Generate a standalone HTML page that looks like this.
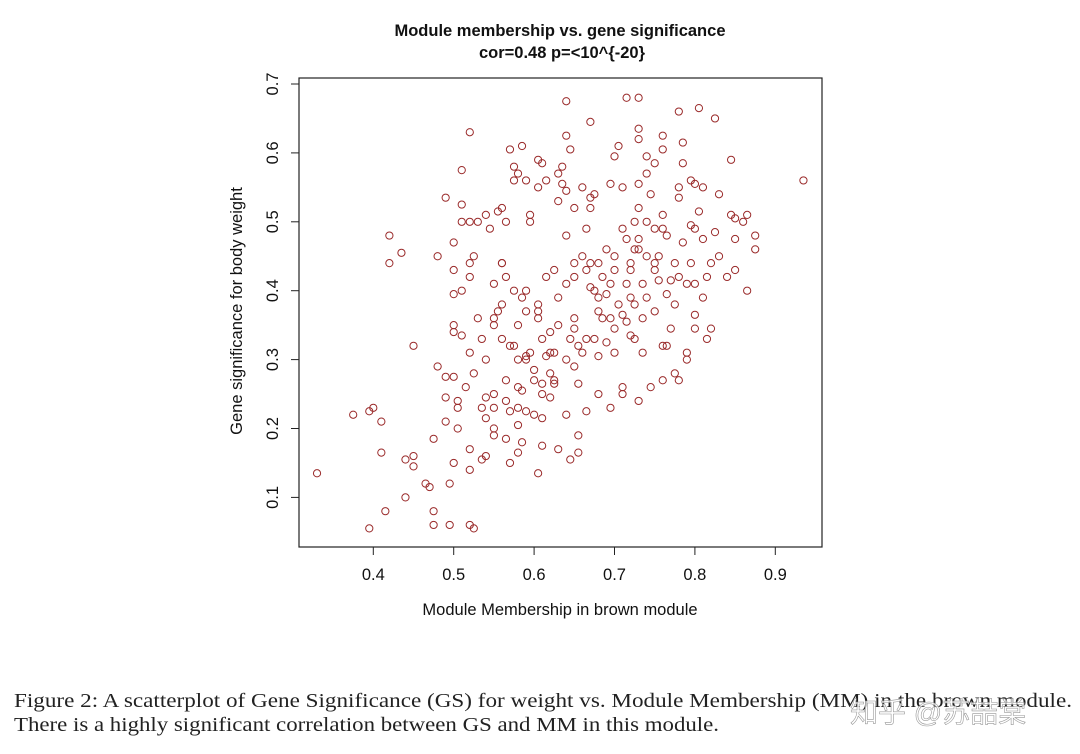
<!DOCTYPE html>
<html><head><meta charset="utf-8"><style>
html,body{margin:0;padding:0;background:#fff;}
svg{display:block;}
</style></head><body>
<svg id="chart" width="1080" height="754" viewBox="0 0 1080 754" xmlns="http://www.w3.org/2000/svg">
<rect width="1080" height="754" fill="#fff"/>
<text x="560" y="36" text-anchor="middle" font-family="'Liberation Sans',sans-serif" font-weight="bold" font-size="16.5" fill="#111">Module membership vs. gene significance</text>
<text x="562" y="58" text-anchor="middle" font-family="'Liberation Sans',sans-serif" font-weight="bold" font-size="16.5" fill="#111">cor=0.48 p=&lt;10^{-20}</text>
<rect x="299" y="78" width="523" height="469" fill="none" stroke="#222" stroke-width="1.2"/>
<g id="xaxis"></g>
<g id="yaxis"></g>
<g id="points"></g>
<text x="560" y="615" text-anchor="middle" font-family="'Liberation Sans',sans-serif" font-size="16.5" fill="#111">Module Membership in brown module</text>
<text transform="translate(242,311) rotate(-90)" text-anchor="middle" font-family="'Liberation Sans',sans-serif" font-size="16.5" fill="#111">Gene significance for body weight</text>
<text x="14" y="707" textLength="1058" lengthAdjust="spacingAndGlyphs" font-family="'Liberation Serif',serif" font-size="20" fill="#222">Figure 2: A scatterplot of Gene Significance (GS) for weight vs. Module Membership (MM) in the brown module.</text>
<text x="14" y="731" textLength="705" lengthAdjust="spacingAndGlyphs" font-family="'Liberation Serif',serif" font-size="20" fill="#222">There is a highly significant correlation between GS and MM in this module.</text>
<text x="850" y="722" font-family="'Liberation Sans','Noto Sans CJK SC',sans-serif" font-size="28" fill="#fff" fill-opacity="0.75" stroke="#999" stroke-width="0.6">知乎 @苏喆棠</text>
</svg>
<script>
const xTicks=[0.4,0.5,0.6,0.7,0.8,0.9];
const yTicks=[0.1,0.2,0.3,0.4,0.5,0.6,0.7];
const mm=[0.33,0.935,0.395,0.375,0.395,0.40,0.41,0.41,0.415,0.42,0.42,0.435,0.44,0.44,0.45,0.45,0.45,0.465,0.47,0.475,0.475,0.475,0.48,0.48,0.49,0.49,0.49,0.495,0.495,0.49,0.50,0.50,0.50,0.50,0.50,0.50,0.50,0.505,0.505,0.505,0.51,0.51,0.51,0.51,0.51,0.515,0.52,0.52,0.52,0.52,0.52,0.52,0.52,0.52,0.525,0.525,0.525,0.53,0.53,0.535,0.535,0.535,0.54,0.54,0.54,0.54,0.54,0.545,0.55,0.55,0.55,0.55,0.55,0.55,0.55,0.555,0.555,0.56,0.56,0.56,0.56,0.56,0.565,0.565,0.565,0.565,0.565,0.57,0.57,0.57,0.57,0.575,0.575,0.575,0.575,0.58,0.58,0.58,0.58,0.58,0.58,0.58,0.585,0.585,0.585,0.585,0.59,0.59,0.59,0.59,0.59,0.59,0.595,0.595,0.595,0.60,0.60,0.60,0.605,0.605,0.605,0.605,0.605,0.605,0.61,0.61,0.61,0.61,0.61,0.61,0.615,0.615,0.615,0.62,0.62,0.62,0.62,0.625,0.625,0.625,0.625,0.63,0.63,0.63,0.63,0.63,0.635,0.635,0.64,0.64,0.64,0.64,0.64,0.64,0.64,0.645,0.645,0.645,0.65,0.65,0.65,0.65,0.65,0.65,0.655,0.655,0.655,0.655,0.66,0.66,0.66,0.665,0.665,0.665,0.665,0.67,0.67,0.67,0.67,0.67,0.675,0.675,0.675,0.68,0.68,0.68,0.68,0.68,0.685,0.685,0.69,0.69,0.69,0.695,0.695,0.695,0.695,0.70,0.70,0.70,0.70,0.70,0.705,0.705,0.71,0.71,0.71,0.71,0.71,0.715,0.715,0.715,0.715,0.72,0.72,0.72,0.72,0.725,0.725,0.725,0.725,0.73,0.73,0.73,0.73,0.73,0.73,0.73,0.73,0.735,0.735,0.735,0.74,0.74,0.74,0.74,0.74,0.745,0.745,0.75,0.75,0.75,0.75,0.75,0.755,0.755,0.76,0.76,0.76,0.76,0.76,0.76,0.765,0.765,0.765,0.77,0.77,0.775,0.775,0.775,0.78,0.78,0.78,0.78,0.78,0.785,0.785,0.785,0.79,0.79,0.79,0.795,0.795,0.795,0.80,0.80,0.80,0.80,0.80,0.805,0.805,0.81,0.81,0.81,0.815,0.815,0.82,0.82,0.825,0.825,0.83,0.83,0.84,0.845,0.845,0.85,0.85,0.85,0.86,0.865,0.865,0.875,0.875];
const gs=[0.135,0.56,0.055,0.22,0.225,0.23,0.165,0.21,0.08,0.48,0.44,0.455,0.10,0.155,0.16,0.145,0.32,0.12,0.115,0.06,0.08,0.185,0.29,0.45,0.275,0.535,0.245,0.12,0.06,0.21,0.15,0.43,0.35,0.34,0.275,0.47,0.395,0.23,0.24,0.20,0.50,0.525,0.575,0.335,0.40,0.26,0.17,0.14,0.50,0.42,0.44,0.63,0.31,0.06,0.055,0.28,0.45,0.50,0.36,0.23,0.33,0.155,0.16,0.51,0.215,0.30,0.245,0.49,0.41,0.35,0.36,0.20,0.23,0.25,0.19,0.515,0.37,0.44,0.38,0.52,0.44,0.33,0.27,0.24,0.185,0.42,0.50,0.15,0.605,0.32,0.225,0.56,0.58,0.40,0.32,0.30,0.57,0.26,0.35,0.23,0.205,0.165,0.61,0.39,0.255,0.18,0.305,0.56,0.40,0.30,0.37,0.225,0.50,0.51,0.31,0.285,0.22,0.27,0.59,0.55,0.38,0.37,0.36,0.135,0.585,0.33,0.265,0.25,0.215,0.175,0.305,0.56,0.42,0.34,0.245,0.31,0.28,0.43,0.31,0.27,0.265,0.35,0.39,0.53,0.57,0.17,0.58,0.555,0.675,0.625,0.545,0.48,0.41,0.30,0.22,0.605,0.155,0.33,0.44,0.42,0.36,0.345,0.29,0.52,0.32,0.265,0.19,0.165,0.55,0.45,0.31,0.49,0.43,0.33,0.225,0.645,0.535,0.52,0.44,0.405,0.54,0.40,0.33,0.44,0.39,0.37,0.305,0.25,0.42,0.36,0.395,0.325,0.46,0.555,0.41,0.36,0.23,0.595,0.45,0.43,0.345,0.31,0.61,0.38,0.55,0.49,0.365,0.26,0.25,0.68,0.475,0.41,0.355,0.44,0.39,0.335,0.43,0.50,0.46,0.38,0.33,0.68,0.635,0.62,0.555,0.475,0.52,0.46,0.24,0.41,0.31,0.36,0.595,0.57,0.50,0.45,0.39,0.54,0.26,0.585,0.49,0.44,0.37,0.43,0.45,0.415,0.625,0.605,0.51,0.49,0.32,0.27,0.48,0.395,0.32,0.415,0.345,0.44,0.38,0.28,0.66,0.55,0.535,0.42,0.27,0.615,0.585,0.47,0.41,0.31,0.30,0.56,0.495,0.44,0.555,0.49,0.41,0.365,0.345,0.665,0.515,0.55,0.475,0.39,0.42,0.33,0.44,0.345,0.65,0.485,0.54,0.45,0.42,0.59,0.51,0.505,0.475,0.43,0.50,0.51,0.40,0.48,0.46];
const NS='http://www.w3.org/2000/svg';
function xScale(v){return 373.3+(v-0.4)*804;}
function yScale(v){return 84+(0.7-v)*689;}
const xa=document.getElementById('xaxis'),ya=document.getElementById('yaxis'),pg=document.getElementById('points');
const xl=document.createElementNS(NS,'line');


xl.setAttribute('x1',xScale(xTicks[0]));xl.setAttribute('x2',xScale(xTicks[xTicks.length-1]));
xl.setAttribute('y1',547);xl.setAttribute('y2',547);xl.setAttribute('stroke','#222');xa.appendChild(xl);
xTicks.forEach(t=>{
  const l=document.createElementNS(NS,'line');
  
  
  l.setAttribute('x1',xScale(t));l.setAttribute('x2',xScale(t));l.setAttribute('y1',547);l.setAttribute('y2',555);l.setAttribute('stroke','#222');xa.appendChild(l);
  const tx=document.createElementNS(NS,'text');
  
  
  tx.setAttribute('x',xScale(t));tx.setAttribute('y',580);tx.setAttribute('text-anchor','middle');
  tx.setAttribute('font-family','Liberation Sans, sans-serif');tx.setAttribute('font-size','16.5');tx.setAttribute('fill','#111');
  tx.textContent=t.toFixed(1);xa.appendChild(tx);
});
const yl=document.createElementNS(NS,'line');


yl.setAttribute('x1',299);yl.setAttribute('x2',299);
yl.setAttribute('y1',yScale(yTicks[0]));yl.setAttribute('y2',yScale(yTicks[yTicks.length-1]));yl.setAttribute('stroke','#222');ya.appendChild(yl);
yTicks.forEach(t=>{
  const l=document.createElementNS(NS,'line');
  
  
  l.setAttribute('x1',291);l.setAttribute('x2',299);l.setAttribute('y1',yScale(t));l.setAttribute('y2',yScale(t));l.setAttribute('stroke','#222');ya.appendChild(l);
  const tx=document.createElementNS(NS,'text');
  
  
  tx.setAttribute('transform','translate(278,'+yScale(t)+') rotate(-90)');tx.setAttribute('text-anchor','middle');
  tx.setAttribute('font-family','Liberation Sans, sans-serif');tx.setAttribute('font-size','16.5');tx.setAttribute('fill','#111');
  tx.textContent=t.toFixed(1);ya.appendChild(tx);
});
mm.forEach((v,i)=>{
  const c=document.createElementNS(NS,'circle');
  
  
  c.setAttribute('cx',xScale(v));c.setAttribute('cy',yScale(gs[i]));c.setAttribute('r',3.6);
  c.setAttribute('fill','none');c.setAttribute('stroke','#9a2a2a');c.setAttribute('stroke-width','1');
  pg.appendChild(c);
});
</script>
</body></html>
